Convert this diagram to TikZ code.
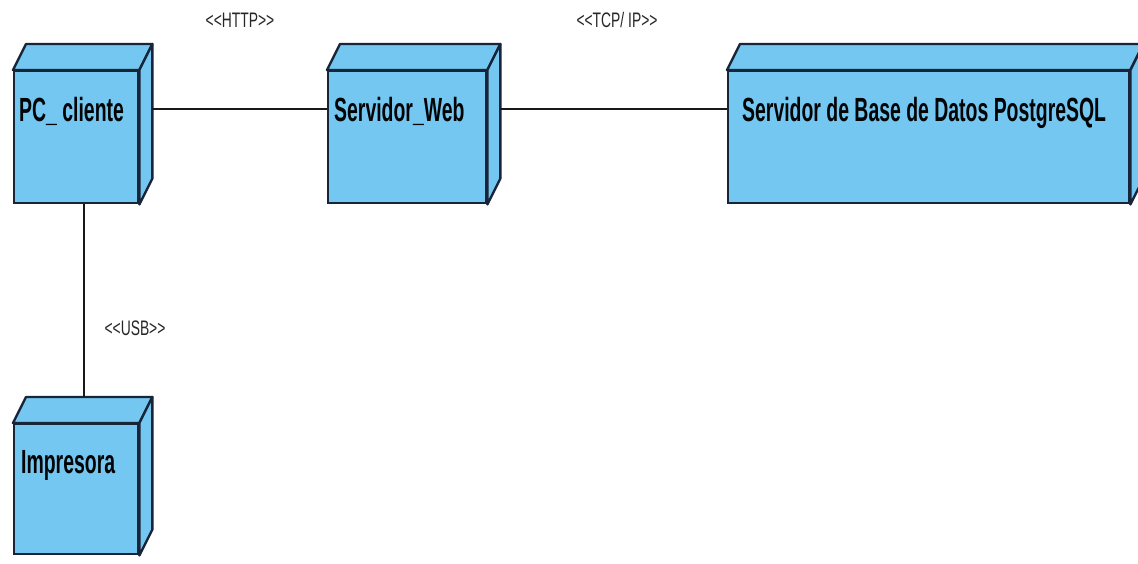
\documentclass[tikz,border=0pt]{standalone}
\usepackage{fontspec}
\newfontfamily\nodefont[FakeStretch=0.58]{Liberation Sans}
\newfontfamily\labfont[FakeStretch=0.66]{Liberation Sans}
\definecolor{nodefill}{RGB}{116,199,240}
\definecolor{nodeline}{RGB}{24,36,56}
\begin{document}
\begin{tikzpicture}[x=1pt,y=-1pt,
  front/.style={draw=nodeline, fill=nodefill, line width=2.4pt, anchor=north west, inner sep=0pt, line join=miter},
  face/.style={draw=nodeline, fill=nodefill, line width=2.4pt, line join=round},
  title/.style={anchor=base west, inner sep=0pt, font=\nodefont\bfseries\fontsize{33.5}{35}\selectfont, text=black!90!nodeline},
  stereo/.style={inner sep=0pt, font=\labfont\fontsize{21}{23}\selectfont, text=black!85},
  conn/.style={draw=black!90, line width=2pt}]
\useasboundingbox[fill=white] (0,0) rectangle (1138,563);
% front faces
\node[front, minimum width=124pt, minimum height=132pt] (pc) at (13,70) {};
\node[front, minimum width=158pt, minimum height=132pt] (web) at (327,70) {};
\node[front, minimum width=401pt, minimum height=132pt] (db) at (727,70) {};
\node[front, minimum width=124pt, minimum height=130pt] (imp) at (13,423) {};
% top and right faces
\foreach \n in {pc,web,db,imp}{
  \draw[face] (\n.north west) -- ++(13,-26) -| ([xshift=13pt,yshift=26pt]\n.north east) -- (\n.north east) -- cycle;
  \draw[face] (\n.north east) -- ++(13,-26) -- ([xshift=13pt,yshift=26pt]\n.south east) -- (\n.south east) -- cycle;
}
% titles
\node[title] (pct) at ([xshift=6pt,yshift=-51pt]pc.north west) {PC\_ cliente};
\node[title] (webt) at ([xshift=7pt,yshift=-51pt]web.north west) {Servidor\_Web};
\node[title] (dbt) at ([xshift=15pt,yshift=-51pt]db.north west) {Servidor de Base de Datos PostgreSQL};
\node[title] (impt) at ([xshift=8pt,yshift=-50pt]imp.north west) {Impresora};
% connectors
\draw[conn] ([xshift=13pt,yshift=28pt]pc.east) -- ([yshift=28pt]web.west);
\draw[conn] ([xshift=13pt,yshift=28pt]web.east) -- ([yshift=28pt]db.west);
\draw[conn] ([xshift=8pt]pc.south) -- ([xshift=8pt,yshift=26pt]imp.north);
% stereotypes
\node[stereo] (http) at (240,20) {<{}<HTTP>{}>};
\node[stereo] (tcp) at (617,20) {<{}<TCP/ IP>{}>};
\node[stereo] (usb) at (135,328) {<{}<USB>{}>};
\end{tikzpicture}
\end{document}
